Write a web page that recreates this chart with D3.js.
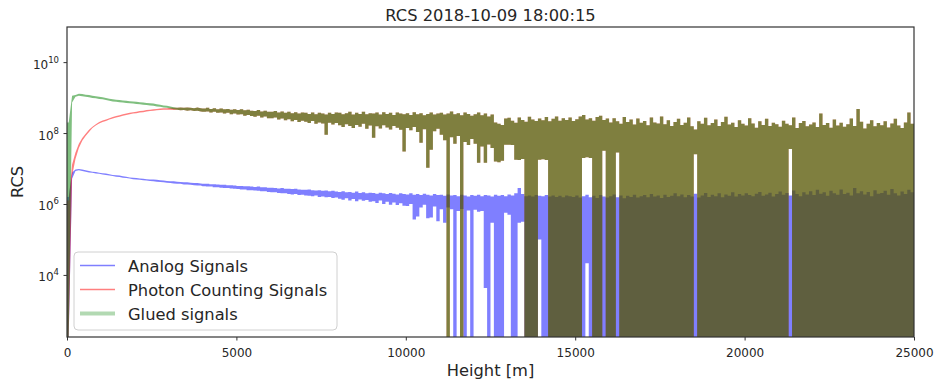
<!DOCTYPE html>
<html>
<head>
<meta charset="utf-8">
<script src="https://cdn.jsdelivr.net/npm/d3@7"></script>
<style>
  body { margin: 0; background: #fff; }
  svg text { font-family: 'DejaVu Sans', sans-serif; fill: #262626; }
</style>
</head>
<body>
<div id="chart"></div>
<script>
'use strict';

// height bins of 100 m (bin start, metres)
var binStart = d3.range(0, 25000, 100);
var xTicks = [0, 5000, 10000, 15000, 20000, 25000];
var yTicks = [4, 6, 8, 10]; // exponents

// each bin: log10(RCS) at the top and bottom of the drawn trace, 0 = drops to <= 0
var analogTop = [
  6.20, 6.89, 6.975, 6.99, 6.97, 6.95, 6.93, 6.91, 6.90, 6.88,
  6.87, 6.86, 6.84, 6.82, 6.81, 6.80, 6.78, 6.77, 6.75, 6.74,
  6.73, 6.72, 6.71, 6.70, 6.69, 6.69, 6.68, 6.67, 6.66, 6.65,
  6.64, 6.64, 6.63, 6.62, 6.61, 6.61, 6.60, 6.59, 6.59, 6.58,
  6.57, 6.57, 6.56, 6.56, 6.55, 6.54, 6.54, 6.53, 6.53, 6.52,
  6.51, 6.51, 6.50, 6.50, 6.49, 6.48, 6.49, 6.47, 6.47, 6.46,
  6.46, 6.45, 6.44, 6.45, 6.43, 6.43, 6.42, 6.43, 6.41, 6.40,
  6.40, 6.41, 6.39, 6.38, 6.39, 6.37, 6.38, 6.36, 6.37, 6.35,
  6.34, 6.36, 6.33, 6.34, 6.32, 6.35, 6.31, 6.33, 6.30, 6.32,
  6.31, 6.29, 6.32, 6.30, 6.28, 6.31, 6.29, 6.27, 6.30, 6.28,
  6.27, 6.30, 6.26, 6.28, 6.25, 6.29, 6.26, 6.24, 6.28, 6.25,
  6.26, 6.23, 6.27, 6.24, 6.25, 6.22, 6.26, 6.24, 6.21, 6.25,
  6.23, 6.26, 6.22, 6.25, 6.24, 6.21, 6.26, 6.23, 6.25, 6.22,
  6.27, 6.24, 6.30, 6.45, 6.28, 6.22, 6.24, 6.21, 6.25, 6.23,
  6.22, 6.25, 6.21, 6.24, 6.20, 6.23, 6.19, 6.24, 6.22, 6.20,
  6.24, 6.18, 6.22, 6.26, 6.19, 6.23, 6.17, 6.25, 6.21, 6.18,
  6.22, 6.27, 6.19, 6.24, 6.16, 6.23, 6.20, 6.26, 6.18, 6.22,
  6.25, 6.19, 6.28, 6.21, 6.24, 6.17, 6.26, 6.20, 6.23, 6.30,
  6.22, 6.27, 6.19, 6.25, 6.21, 6.29, 6.18, 6.24, 6.31, 6.20,
  6.26, 6.22, 6.30, 6.19, 6.27, 6.23, 6.33, 6.21, 6.28, 6.24,
  6.30, 6.25, 6.22, 6.29, 6.34, 6.23, 6.27, 6.32, 6.21, 6.28,
  6.35, 6.26, 6.31, 6.24, 6.38, 6.28, 6.22, 6.33, 6.27, 6.36,
  6.25, 6.40, 6.29, 6.33, 6.23, 6.37, 6.30, 6.26, 6.41, 6.28,
  6.32, 6.24, 6.45, 6.30, 6.36, 6.27, 6.34, 6.22, 6.39, 6.29,
  6.31, 6.37, 6.26, 6.42, 6.30, 6.24, 6.35, 6.28, 6.40, 6.33
];
var analogBottom = [
  0, 6.71, 6.93, 6.95, 6.93, 6.91, 6.89, 6.88, 6.86, 6.85,
  6.83, 6.82, 6.80, 6.79, 6.77, 6.76, 6.74, 6.73, 6.72, 6.70,
  6.69, 6.68, 6.67, 6.66, 6.65, 6.64, 6.63, 6.62, 6.61, 6.60,
  6.59, 6.58, 6.57, 6.57, 6.55, 6.55, 6.54, 6.53, 6.52, 6.52,
  6.50, 6.49, 6.49, 6.47, 6.47, 6.46, 6.45, 6.45, 6.44, 6.43,
  6.42, 6.41, 6.41, 6.39, 6.39, 6.38, 6.37, 6.36, 6.36, 6.34,
  6.33, 6.33, 6.31, 6.30, 6.30, 6.28, 6.27, 6.28, 6.25, 6.26,
  6.24, 6.23, 6.22, 6.24, 6.20, 6.21, 6.19, 6.20, 6.17, 6.18,
  6.15, 6.12, 6.16, 6.10, 6.14, 6.08, 6.13, 6.09, 6.11, 6.06,
  6.08, 6.03, 6.10, 6.00, 6.06, 5.98, 6.04, 5.97, 6.02, 5.95,
  5.94, 6.00, 5.56, 5.65, 5.90, 5.98, 5.60, 5.62, 5.93, 5.51,
  5.85, 5.47, 5.90, 5.85, 0, 5.80, 5.86, 0, 5.82, 0,
  5.84, 5.78, 5.80, 3.63, 0, 5.47, 0, 0, 0, 5.75,
  5.70, 0, 0, 5.47, 5.50, 0, 0, 0, 0, 5.00,
  0, 0, 0, 0, 0, 0, 0, 0, 0, 0,
  0, 0, 0, 4.33, 0, 0, 0, 0, 0, 0,
  0, 0, 0, 0, 0, 0, 0, 0, 0, 0,
  0, 0, 0, 0, 0, 0, 0, 0, 0, 0,
  0, 0, 0, 0, 0, 0, 0, 0, 0, 0,
  0, 0, 0, 0, 0, 0, 0, 0, 0, 0,
  0, 0, 0, 0, 0, 0, 0, 0, 0, 0,
  0, 0, 0, 0, 0, 0, 0, 0, 0, 0,
  0, 0, 0, 0, 0, 0, 0, 0, 0, 0,
  0, 0, 0, 0, 0, 0, 0, 0, 0, 0,
  0, 0, 0, 0, 0, 0, 0, 0, 0, 0
];

var photonTop = [
  6.10, 7.11, 7.45, 7.70, 7.86, 7.98, 8.09, 8.18, 8.25, 8.31,
  8.355, 8.385, 8.42, 8.45, 8.48, 8.50, 8.53, 8.55, 8.57, 8.59,
  8.60, 8.62, 8.63, 8.65, 8.66, 8.67, 8.68, 8.69, 8.70, 8.70,
  8.71, 8.71, 8.71, 8.72, 8.71, 8.72, 8.71, 8.70, 8.72, 8.70,
  8.69, 8.71, 8.68, 8.70, 8.67, 8.69, 8.67, 8.68, 8.66, 8.67,
  8.65, 8.67, 8.64, 8.66, 8.63, 8.62, 8.65, 8.61, 8.63, 8.60,
  8.60, 8.62, 8.58, 8.61, 8.57, 8.60, 8.56, 8.59, 8.55, 8.58,
  8.57, 8.54, 8.58, 8.53, 8.57, 8.55, 8.52, 8.57, 8.54, 8.58,
  8.57, 8.53, 8.56, 8.60, 8.52, 8.57, 8.54, 8.60, 8.53, 8.56,
  8.55, 8.58, 8.52, 8.59, 8.54, 8.57, 8.51, 8.58, 8.55, 8.53,
  8.56, 8.51, 8.59, 8.53, 8.56, 8.50, 8.54, 8.58, 8.52, 8.55,
  8.57, 8.52, 8.55, 8.61, 8.53, 8.56, 8.50, 8.58, 8.54, 8.49,
  8.53, 8.58, 8.50, 8.55, 8.47, 8.52, 8.30, 8.26, 8.23, 8.41,
  8.43, 8.35, 8.29, 8.44, 8.37, 8.32, 8.46, 8.38, 8.34, 8.41,
  8.36, 8.45, 8.33, 8.40, 8.47, 8.35, 8.42, 8.37, 8.44, 8.34,
  8.39, 8.47, 8.51, 8.38, 8.42, 8.35, 8.45, 8.49, 8.37, 8.41,
  8.30, 8.42, 8.33, 8.26, 8.45, 8.31, 8.38, 8.24, 8.41, 8.29,
  8.34, 8.22, 8.44, 8.30, 8.27, 8.47, 8.25, 8.36, 8.20, 8.31,
  8.40, 8.23, 8.29, 8.44, 8.19, 8.10, 8.33, 8.26, 8.43, 8.22,
  8.28, 8.38, 8.20, 8.31, 8.46, 8.24, 8.29, 8.17, 8.36, 8.26,
  8.21, 8.42, 8.27, 8.15, 8.33, 8.23, 8.40, 8.20, 8.29, 8.25,
  8.18, 8.35, 8.26, 8.22, 8.44, 8.14, 8.28, 8.34, 8.19, 8.24,
  8.30, 8.17, 8.55, 8.23, 8.28, 8.15, 8.38, 8.21, 8.29, 8.18,
  8.25, 8.41, 8.20, 8.68, 8.32, 8.13, 8.26, 8.36, 8.19, 8.28,
  8.22, 8.33, 8.16, 8.27, 8.40, 8.21, 8.14, 8.30, 8.58, 8.26
];
var photonBottom = [
  0, 6.79, 7.27, 7.58, 7.78, 7.92, 8.03, 8.14, 8.21, 8.27,
  8.31, 8.34, 8.38, 8.41, 8.44, 8.46, 8.49, 8.51, 8.53, 8.55,
  8.56, 8.58, 8.59, 8.61, 8.62, 8.63, 8.64, 8.65, 8.66, 8.66,
  8.66, 8.65, 8.66, 8.64, 8.65, 8.63, 8.64, 8.62, 8.63, 8.61,
  8.60, 8.61, 8.58, 8.60, 8.57, 8.58, 8.55, 8.57, 8.53, 8.55,
  8.52, 8.53, 8.49, 8.51, 8.48, 8.46, 8.49, 8.44, 8.47, 8.42,
  8.42, 8.44, 8.38, 8.41, 8.36, 8.39, 8.33, 8.37, 8.31, 8.35,
  8.32, 8.28, 8.34, 8.26, 8.30, 8.27, 7.95, 8.29, 8.24, 8.28,
  8.22, 8.17, 8.25, 8.20, 8.14, 8.23, 8.18, 8.26, 8.12, 8.21,
  7.87, 8.19, 8.13, 8.22, 8.16, 8.10, 8.20, 8.15, 8.09, 7.48,
  8.14, 8.08, 8.17, 8.03, 7.73, 8.11, 7.02, 7.53, 8.05, 8.12,
  7.95, 7.80, 0, 7.88, 7.70, 7.92, 0, 7.75, 7.66, 7.83,
  7.70, 7.16, 7.62, 7.16, 7.68, 7.58, 7.20, 7.18, 7.22, 7.67,
  7.67, 7.66, 7.25, 7.24, 7.27, 0, 0, 0, 0, 7.25,
  7.26, 7.24, 0, 0, 0, 0, 0, 0, 0, 0,
  0, 0, 7.30, 7.32, 7.30, 0, 0, 0, 7.50, 0,
  0, 0, 7.45, 0, 0, 0, 0, 0, 0, 0,
  0, 0, 0, 0, 0, 0, 0, 0, 0, 0,
  0, 0, 0, 0, 0, 7.40, 0, 0, 0, 0,
  0, 0, 0, 0, 0, 0, 0, 0, 0, 0,
  0, 0, 0, 0, 0, 0, 0, 0, 0, 0,
  0, 0, 0, 7.55, 0, 0, 0, 0, 0, 0,
  0, 0, 0, 0, 0, 0, 0, 0, 0, 0,
  0, 0, 0, 0, 0, 0, 0, 0, 0, 0,
  0, 0, 0, 0, 0, 0, 0, 0, 0, 0
];

// glued signal below the gluing height (bins 0-31), photon counting above it
var gluedNearTop = [
  8.30, 9.05, 9.075, 9.11, 9.10, 9.08, 9.07, 9.05, 9.04, 9.02,
  9.01, 8.99, 8.97, 8.95, 8.94, 8.93, 8.92, 8.91, 8.90, 8.89,
  8.88, 8.87, 8.86, 8.85, 8.84, 8.83, 8.81, 8.80, 8.78, 8.77,
  8.75, 8.73
];
var gluedNearBottom = [
  0, 8.86, 9.025, 9.05, 9.04, 9.02, 9.01, 8.99, 8.98, 8.96,
  8.95, 8.93, 8.91, 8.89, 8.88, 8.87, 8.86, 8.85, 8.84, 8.83,
  8.82, 8.81, 8.80, 8.79, 8.78, 8.77, 8.75, 8.74, 8.72, 8.71,
  8.69, 8.67
];
var glueBin = gluedNearTop.length;
var gluedTop = gluedNearTop.concat(photonTop.slice(glueBin));
var gluedBottom = gluedNearBottom.concat(photonBottom.slice(glueBin));

var series = [
  { name: 'Analog Signals', color: '#0000ff', top: analogTop, bottom: analogBottom, lw: 1.5 },
  { name: 'Photon Counting Signals', color: '#ff0000', top: photonTop, bottom: photonBottom, lw: 1.5 },
  { name: 'Glued signals', color: '#008000', top: gluedTop, bottom: gluedBottom, lw: 4 }
];

var width = 935, height = 384;
var margin = { top: 27, right: 21, bottom: 47, left: 67 };
var plotW = width - margin.left - margin.right;
var plotH = height - margin.top - margin.bottom;
var smoothBins = 40; // below 4 km the trace is drawn as a smooth line, above it bin by bin

var svg = d3.select('#chart')
  .append('svg')
  .attr('width', width)
  .attr('height', height);

var x = d3.scaleLinear()
  .domain([0, 25000])
  .range([0, plotW]);

var y = d3.scaleLog()
  .domain([Math.pow(10, 2.25), Math.pow(10, 10.99)])
  .range([plotH, 0])
  .clamp(true);

var g = svg.append('g')
  .attr('transform', 'translate(' + margin.left + ',' + margin.top + ')');

g.append('clipPath')
  .attr('id', 'plot-clip')
  .append('rect')
  .attr('width', plotW)
  .attr('height', plotH);

var area = d3.area()
  .x(function (d) { return x(d.h); })
  .y0(function (d) { return y(Math.pow(10, d.lo)); })
  .y1(function (d) { return y(Math.pow(10, d.hi)); });

series.forEach(function (s) {
  var pts = [{ h: 0, hi: s.top[0], lo: s.bottom[0] }];
  binStart.forEach(function (h, i) {
    if (i < smoothBins) {
      pts.push({ h: h + 50, hi: s.top[i], lo: s.bottom[i] });
    } else {
      pts.push({ h: h, hi: s.top[i], lo: s.bottom[i] });
      pts.push({ h: h + 100, hi: s.top[i], lo: s.bottom[i] });
    }
  });

  g.append('path')
    .datum(pts)
    .attr('clip-path', 'url(#plot-clip)')
    .attr('d', area)
    .style('fill', s.color)
    .style('fill-opacity', 0.5)
    .style('stroke', 'none');
});

// x axis
var xAxis = g.append('g')
  .attr('transform', 'translate(0,' + plotH + ')')
  .call(d3.axisBottom(x).tickValues(xTicks).tickSize(3.5).tickPadding(8).tickFormat(d3.format('d')));
xAxis.select('.domain').remove();
xAxis.selectAll('line').style('stroke', '#333');
xAxis.selectAll('text')
  .style('font-size', '12px')
  .style('font-family', "'DejaVu Sans', sans-serif")
  .style('fill', '#262626');

// y axis, labels 10^n drawn by hand
var yAxis = g.append('g')
  .call(d3.axisLeft(y).tickValues(yTicks.map(function (e) { return Math.pow(10, e); })).tickSize(3.5).tickFormat(''));
yAxis.select('.domain').remove();
yAxis.selectAll('line').style('stroke', '#333');

var yLab = g.selectAll('.ylab')
  .data(yTicks)
  .enter()
  .append('text')
  .attr('class', 'ylab')
  .attr('text-anchor', 'end')
  .attr('x', -8)
  .attr('y', function (d) { return y(Math.pow(10, d)) + 6.5; })
  .style('font-size', '12px');
yLab.append('tspan').text('10');
yLab.append('tspan')
  .attr('dy', -6)
  .style('font-size', '8.5px')
  .text(function (d) { return d; });

// frame
g.append('rect')
  .attr('width', plotW)
  .attr('height', plotH)
  .style('fill', 'none')
  .style('stroke', '#333')
  .style('stroke-width', 1.2);

// labels
svg.append('text')
  .attr('x', margin.left + plotW / 2)
  .attr('y', 21)
  .attr('text-anchor', 'middle')
  .style('font-size', '16.3px')
  .text('RCS 2018-10-09 18:00:15');

svg.append('text')
  .attr('x', margin.left + plotW / 2)
  .attr('y', 376)
  .attr('text-anchor', 'middle')
  .style('font-size', '16.3px')
  .text('Height [m]');

svg.append('text')
  .attr('transform', 'translate(23,' + (margin.top + plotH / 2) + ') rotate(-90)')
  .attr('text-anchor', 'middle')
  .style('font-size', '16.3px')
  .text('RCS');

// legend
var legend = svg.append('g')
  .attr('transform', 'translate(74,252)');

legend.append('rect')
  .attr('width', 263)
  .attr('height', 78)
  .attr('rx', 4)
  .style('fill', '#fff')
  .style('fill-opacity', 0.8)
  .style('stroke', '#d0d0d0');

var item = legend.selectAll('.item')
  .data(series)
  .enter()
  .append('g')
  .attr('class', 'item')
  .attr('transform', function (d, i) { return 'translate(0,' + (13.5 + i * 24) + ')'; });

item.append('line')
  .attr('x1', 6)
  .attr('x2', 41)
  .style('stroke', function (d) { return d.color; })
  .style('stroke-opacity', function (d) { return d.lw > 2 ? 0.3 : 0.5; })
  .style('stroke-width', function (d) { return d.lw; });

item.append('text')
  .attr('x', 54)
  .attr('y', 6)
  .style('font-size', '16.3px')
  .text(function (d) { return d.name; });
</script>
</body>
</html>
